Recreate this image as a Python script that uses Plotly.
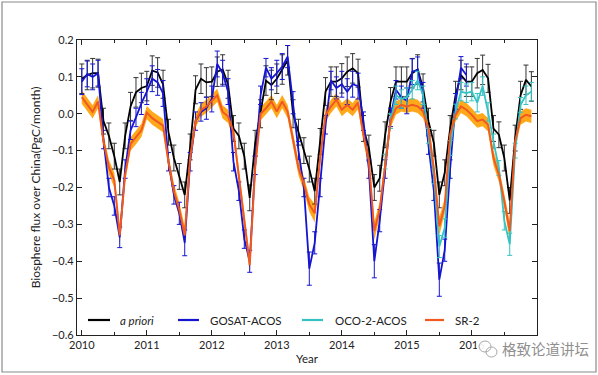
import plotly.graph_objects as go

years = [2010, 2011, 2012, 2013, 2014, 2015, 2016]
month_index = list(range(12))

# ---- series values (PgC/month), Jan..Dec per year ----
a_priori = [
    0.095, 0.105, 0.110, 0.110, -0.020, -0.060, -0.115, -0.185, -0.060, 0.020, 0.058, 0.070,
    0.075, 0.117, 0.112, 0.080, -0.050, -0.120, -0.170, -0.220, -0.090, 0.065, 0.095, 0.085,
    0.087, 0.114, 0.120, 0.080, -0.040, -0.060, -0.115, -0.228, -0.080, 0.000, 0.090, 0.078,
    0.095, 0.120, 0.145, 0.000, -0.050, -0.100, -0.150, -0.210, -0.075, 0.060, 0.087, 0.087,
    0.096, 0.114, 0.123, 0.110, -0.040, -0.093, -0.200, -0.175, -0.057, 0.033, 0.087, 0.087,
    0.087, 0.110, 0.120, 0.070, -0.020, -0.080, -0.220, -0.160, -0.040, 0.050, 0.105, 0.087,
    0.087, 0.110, 0.119, 0.096, -0.040, -0.057, -0.120, -0.235, -0.066, 0.050, 0.092, 0.074,
]
a_priori_err = [
    0.040, 0.040, 0.040, 0.038, 0.035, 0.035, 0.035, 0.035, 0.035, 0.038, 0.040, 0.040,
    0.040, 0.040, 0.040, 0.038, 0.035, 0.035, 0.035, 0.035, 0.035, 0.038, 0.040, 0.040,
    0.040, 0.040, 0.040, 0.038, 0.035, 0.035, 0.035, 0.035, 0.035, 0.038, 0.040, 0.040,
    0.040, 0.040, 0.040, 0.038, 0.035, 0.035, 0.035, 0.035, 0.035, 0.038, 0.040, 0.040,
    0.040, 0.040, 0.040, 0.038, 0.035, 0.035, 0.035, 0.035, 0.035, 0.038, 0.040, 0.040,
    0.040, 0.040, 0.040, 0.038, 0.035, 0.035, 0.035, 0.035, 0.035, 0.038, 0.040, 0.040,
    0.040, 0.040, 0.040, 0.038, 0.035, 0.035, 0.035, 0.035, 0.035, 0.038, 0.040, 0.040,
]
gosat_acos = [
    0.087, 0.108, 0.100, 0.110, -0.070, -0.200, -0.250, -0.335, -0.150, -0.045, -0.010, 0.028,
    0.060, 0.095, 0.085, 0.055, -0.130, -0.220, -0.270, -0.350, -0.130, -0.020, 0.005, 0.015,
    0.040, 0.135, 0.110, 0.060, -0.130, -0.210, -0.340, -0.400, -0.140, 0.050, 0.125, 0.095,
    0.110, 0.128, 0.155, 0.030, -0.100, -0.200, -0.420, -0.350, -0.200, -0.030, 0.090, 0.070,
    0.080, 0.060, 0.080, 0.075, -0.020, -0.150, -0.400, -0.290, -0.150, -0.010, 0.065, 0.045,
    0.035, 0.114, 0.119, 0.050, -0.085, -0.210, -0.450, -0.370, -0.150, 0.030, 0.125, 0.105,
    None, None, None, None, None, None, None, None, None, None, None, None,
]
gosat_acos_err = [
    0.035, 0.035, 0.035, 0.035, 0.025, 0.025, 0.025, 0.028, 0.025, 0.025, 0.025, 0.030,
    0.035, 0.035, 0.035, 0.035, 0.025, 0.025, 0.030, 0.035, 0.025, 0.025, 0.025, 0.030,
    0.035, 0.035, 0.035, 0.035, 0.025, 0.025, 0.025, 0.030, 0.025, 0.025, 0.025, 0.030,
    0.035, 0.035, 0.030, 0.030, 0.025, 0.025, 0.045, 0.030, 0.025, 0.025, 0.025, 0.030,
    0.035, 0.035, 0.035, 0.035, 0.025, 0.025, 0.045, 0.030, 0.025, 0.025, 0.025, 0.030,
    0.035, 0.035, 0.035, 0.035, 0.025, 0.025, 0.045, 0.030, 0.025, 0.025, 0.030, 0.030,
    None, None, None, None, None, None, None, None, None, None, None, None,
]
oco2_acos = [
    None, None, None, None, None, None, None, None, None, None, None, None,
    None, None, None, None, None, None, None, None, None, None, None, None,
    None, None, None, None, None, None, None, None, None, None, None, None,
    None, None, None, None, None, None, None, None, None, None, None, None,
    None, None, None, None, None, None, None, None, -0.130, -0.020, 0.050, 0.040,
    0.045, 0.065, 0.090, 0.050, -0.060, -0.170, -0.360, -0.310, -0.093, 0.006, 0.060, 0.056,
    0.060, 0.030, 0.075, 0.005, -0.075, -0.147, -0.290, -0.354, -0.100, 0.024, 0.050, 0.060,
]
oco2_acos_err = [
    None, None, None, None, None, None, None, None, None, None, None, None,
    None, None, None, None, None, None, None, None, None, None, None, None,
    None, None, None, None, None, None, None, None, None, None, None, None,
    None, None, None, None, None, None, None, None, None, None, None, None,
    None, None, None, None, None, None, None, None, 0.020, 0.020, 0.025, 0.025,
    0.025, 0.025, 0.025, 0.025, 0.020, 0.020, 0.030, 0.025, 0.020, 0.020, 0.025, 0.025,
    0.025, 0.025, 0.025, 0.025, 0.020, 0.020, 0.025, 0.030, 0.020, 0.020, 0.025, 0.025,
]
sr2 = [
    0.045, 0.025, 0.005, 0.033, -0.075, -0.145, -0.180, -0.330, -0.165, -0.082, -0.065, -0.045,
    0.003, -0.012, -0.022, -0.032, -0.130, -0.210, -0.260, -0.330, -0.120, -0.020, 0.010, 0.020,
    0.035, 0.050, 0.005, -0.007, -0.050, -0.165, -0.290, -0.410, -0.147, 0.000, 0.015, 0.033,
    0.006, 0.033, 0.006, -0.070, -0.147, -0.190, -0.246, -0.270, -0.120, -0.003, 0.020, 0.038,
    0.011, 0.024, 0.011, 0.030, -0.057, -0.129, -0.318, -0.260, -0.147, -0.020, 0.015, 0.024,
    0.020, 0.024, 0.020, 0.006, -0.040, -0.150, -0.305, -0.250, -0.057, -0.003, 0.020, 0.011,
    -0.003, -0.020, -0.016, -0.030, -0.120, -0.165, -0.237, -0.318, -0.075, -0.012, -0.003, -0.007,
]
sr2_unc = [
    0.018, 0.018, 0.018, 0.018, 0.020, 0.020, 0.020, 0.025, 0.020, 0.018, 0.018, 0.018,
    0.018, 0.018, 0.018, 0.018, 0.020, 0.020, 0.020, 0.025, 0.020, 0.018, 0.018, 0.018,
    0.018, 0.018, 0.018, 0.018, 0.020, 0.020, 0.020, 0.025, 0.020, 0.018, 0.018, 0.018,
    0.018, 0.018, 0.018, 0.018, 0.020, 0.020, 0.020, 0.025, 0.020, 0.018, 0.018, 0.018,
    0.018, 0.018, 0.018, 0.018, 0.020, 0.020, 0.025, 0.020, 0.020, 0.018, 0.018, 0.018,
    0.018, 0.018, 0.018, 0.018, 0.020, 0.020, 0.025, 0.020, 0.020, 0.018, 0.018, 0.018,
    0.018, 0.018, 0.018, 0.018, 0.020, 0.020, 0.020, 0.025, 0.020, 0.018, 0.018, 0.018,
]

legend_names = ["<i>a priori</i>", "GOSAT-ACOS", "OCO-2-ACOS", "SR-2"]
y_tick_vals = [0.2, 0.1, 0.0, -0.1, -0.2, -0.3, -0.4, -0.5, -0.6]
y_tick_text = ["0.2", "0.1", "0.0", "\u22120.1", "\u22120.2", "\u22120.3", "\u22120.4", "\u22120.5", "\u22120.6"]
x_tick_vals = years
x_tick_text = [str(y) for y in years]

# decimal-year time axis (first day of each month)
t = [y + m / 12 for y in years for m in month_index]

FONT = "Lato, DejaVu Sans, sans-serif"
TXT = "#222222"
C_BLACK = "#000000"
C_BLUE = "#1515d0"
C_CYAN = "#35c2c2"
C_ORANGE = "#f05a22"
C_BAND = "#ffa81a"
colors = [C_BLACK, C_BLUE, C_CYAN, C_ORANGE]

fig = go.Figure()

# SR-2 uncertainty band
hi = [v + u for v, u in zip(sr2, sr2_unc)]
lo = [v - u for v, u in zip(sr2, sr2_unc)]
fig.add_trace(go.Scatter(x=t + t[::-1], y=hi + lo[::-1], fill="toself",
                         fillcolor=C_BAND, line=dict(width=0), mode="lines",
                         showlegend=False, hoverinfo="skip"))

fig.add_trace(go.Scatter(x=t, y=a_priori, mode="lines", name=legend_names[0], showlegend=False,
                         line=dict(color=C_BLACK, width=1.8),
                         error_y=dict(type="data", array=a_priori_err, color="#333333",
                                      thickness=1, width=2.5)))
fig.add_trace(go.Scatter(x=t, y=gosat_acos, mode="lines", name=legend_names[1], showlegend=False,
                         line=dict(color=C_BLUE, width=1.8),
                         error_y=dict(type="data", array=gosat_acos_err, color=C_BLUE,
                                      thickness=1, width=2.5)))
fig.add_trace(go.Scatter(x=t, y=oco2_acos, mode="lines", name=legend_names[2], showlegend=False,
                         line=dict(color=C_CYAN, width=1.8),
                         error_y=dict(type="data", array=oco2_acos_err, color=C_CYAN,
                                      thickness=1, width=2.5)))
fig.add_trace(go.Scatter(x=t, y=sr2, mode="lines", name=legend_names[3], showlegend=False,
                         line=dict(color=C_ORANGE, width=2)))

axis_common = dict(showline=True, linecolor=TXT, linewidth=1.3, mirror="allticks",
                   ticks="inside", tickcolor=TXT, showgrid=False, zeroline=False,
                   tickfont=dict(family=FONT, size=11, color=TXT))

fig.update_xaxes(range=[2009.926, 2017.003], tickvals=x_tick_vals, ticktext=x_tick_text,
                 ticklen=5, minor=dict(dtick=0.5, tick0=2010, ticks="inside", ticklen=3,
                                       tickcolor=TXT),
                 title=dict(text="Year", font=dict(family=FONT, size=11.5, color=TXT),
                            standoff=4),
                 **axis_common)
fig.update_yaxes(range=[-0.6, 0.2], tickvals=y_tick_vals, ticktext=y_tick_text, ticklen=5,
                 title=dict(text="Biosphere flux over China(PgC/month)",
                            font=dict(family=FONT, size=12, color=TXT), standoff=8),
                 **axis_common)

# pixel -> paper helpers
W, H = 598, 375
ml, mr, mt, mb = 77, 61, 40, 40
pw, ph = W - ml - mr, H - mt - mb
def px(xp): return (xp - ml) / pw
def py(yp): return (H - mb - yp) / ph

# legend drawn inside the axes, one row along the bottom
leg_line_x = [(88, 110), (178, 199), (302, 323), (425, 444)]
leg_text_x = [118, 208, 333, 453]
leg_y = 320
for (a, b), tx, name, col in zip(leg_line_x, leg_text_x, legend_names, colors):
    fig.add_shape(type="line", xref="paper", yref="paper", x0=px(a), x1=px(b), y0=py(leg_y), y1=py(leg_y),
                  line=dict(color=col, width=2.2))
    fig.add_annotation(xref="paper", yref="paper", x=px(tx), y=py(leg_y), text=name, showarrow=False,
                       xanchor="left", yanchor="middle", font=dict(family=FONT, size=11.5, color=TXT))

# outer image frame
fig.add_shape(type="rect", xref="paper", yref="paper", x0=px(2), x1=px(596), y0=py(372), y1=py(2),
              line=dict(color="#8a8a8a", width=1.2), fillcolor="rgba(0,0,0,0)")

# watermark
fig.add_shape(type="rect", xref="paper", yref="paper", x0=px(477), x1=px(593), y0=py(358), y1=py(339),
              line=dict(width=0), fillcolor="rgba(255,255,255,0.92)")
fig.add_shape(type="circle", xref="paper", yref="paper", x0=px(479), x1=px(491), y0=py(352), y1=py(341),
              line=dict(color="#a8a8a8", width=1))
fig.add_shape(type="circle", xref="paper", yref="paper", x0=px(486), x1=px(497), y0=py(357), y1=py(347),
              line=dict(color="#a8a8a8", width=1))
fig.add_annotation(xref="paper", yref="paper", x=px(500), y=py(348), text="格致论道讲坛",
                   showarrow=False, xanchor="left", yanchor="middle",
                   font=dict(family="Noto Sans CJK SC", size=14.5, color="#8f8f8f"))

fig.update_layout(
    width=W, height=H, margin=dict(l=ml, r=mr, t=mt, b=mb),
    paper_bgcolor="white", plot_bgcolor="white",
    showlegend=False,
)

fig.write_html("out.html", config={"displayModeBar": False},
               post_script="document.body.style.margin='0px';")
